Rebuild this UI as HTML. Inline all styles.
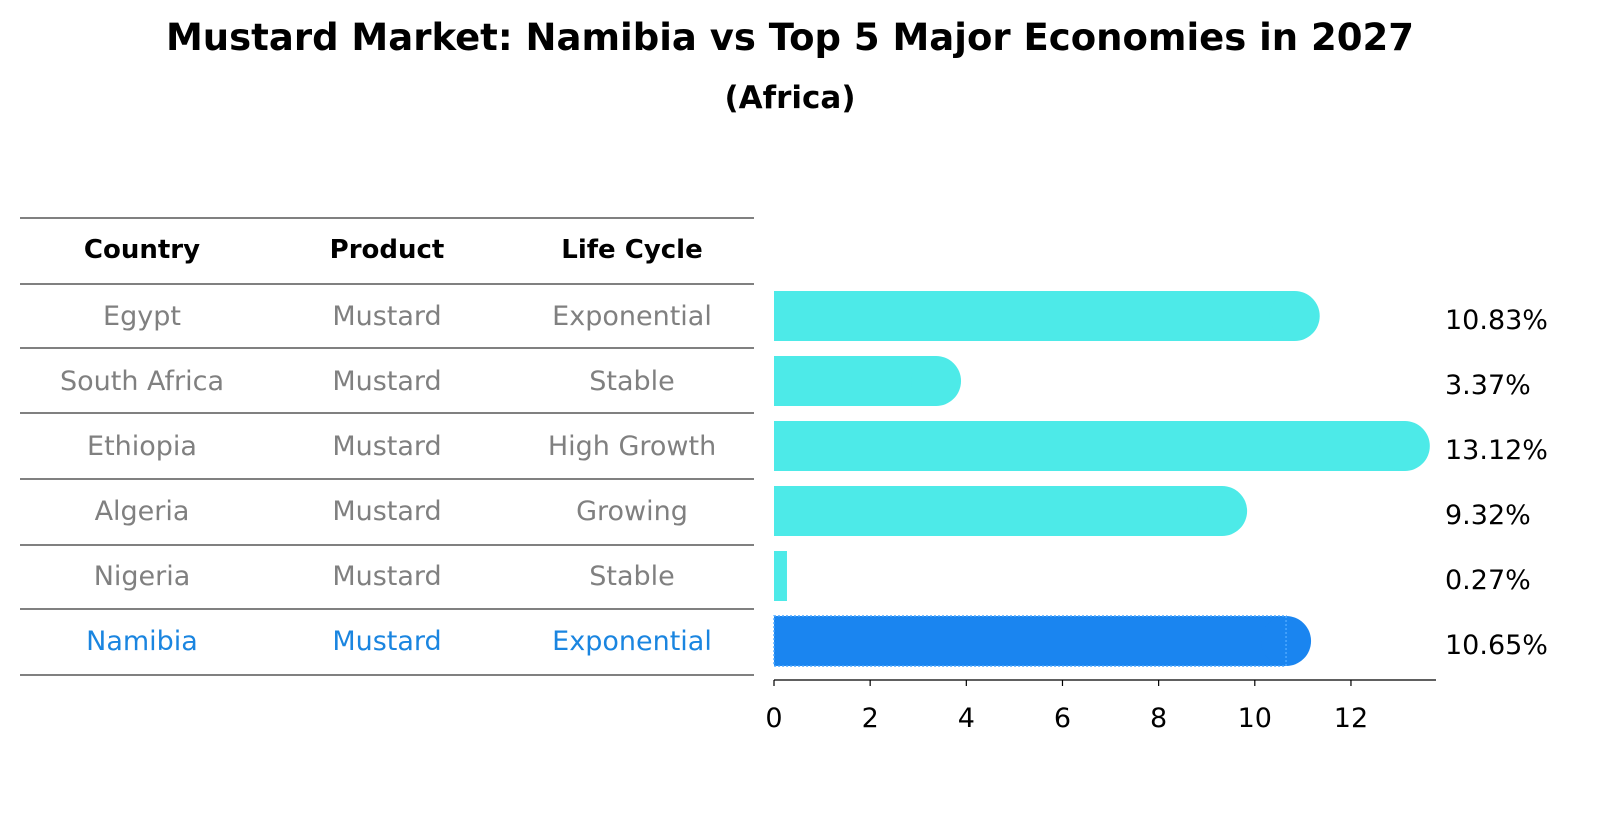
<!DOCTYPE html>
<html><head><meta charset="utf-8"><style>
body{margin:0;background:#fff;font-family:"Liberation Sans","DejaVu Sans",sans-serif}
</style></head><body>
<svg width="1604" height="823" xmlns="http://www.w3.org/2000/svg" font-family="DejaVu Sans, Liberation Sans, sans-serif">
<text x="790" y="50" text-anchor="middle" font-size="37" font-weight="bold">Mustard Market: Namibia vs Top 5 Major Economies in 2027</text>
<text x="790" y="108" text-anchor="middle" font-size="31" font-weight="bold">(Africa)</text>
<g id="table"></g>
<g id="bars"></g>
</svg>
<script>
const countries=["Egypt","South Africa","Ethiopia","Algeria","Nigeria","Namibia"];
const products=["Mustard","Mustard","Mustard","Mustard","Mustard","Mustard"];
const lifeCycles=["Exponential","Stable","High Growth","Growing","Stable","Exponential"];
const values=[10.83,3.37,13.12,9.32,0.27,10.65];
const ticks=[0,2,4,6,8,10,12];
const NS="http://www.w3.org/2000/svg";
const tbl=document.getElementById('table'), bars=document.getElementById('bars');
function mk(tag,attrs,parent,text){const e=document.createElementNS(NS,tag);for(const k in attrs)e.setAttribute(k,attrs[k]);if(text!==undefined)e.textContent=text;parent.appendChild(e);return e;}
const x=v=>774+v*48.08;
const rowY=i=>316+i*65;
const lineYs=[218,284,348,413,479,545,609,675];
lineYs.forEach((ly,i)=>{const l=mk('line',{x1:20,x2:754,y1:ly,y2:ly,stroke:'#000','stroke-width':1},tbl);

});
const colX=[142,387,632];
["Country","Product","Life Cycle"].forEach((h,j)=>{const t=mk('text',{x:colX[j],y:258,'text-anchor':'middle','font-size':26,'font-weight':'bold'},tbl,h);

});
countries.forEach((c,i)=>{
 const col=i===countries.length-1?'#1a85e0':'#808080';
 [c,products[i],lifeCycles[i]].forEach((s,j)=>{const t=mk('text',{x:colX[j],y:rowY(i)+9,'text-anchor':'middle','font-size':27,fill:col},tbl,s);
 
 });
 const hl=i===countries.length-1;
 const fill=hl?'#1a85f0':'#4deae8';
 const y0=rowY(i)-25, w=x(values[i])-774;
 const g=mk('g',{},bars);
 
 
 mk('rect',{x:774,y:y0,width:w,height:50,fill:fill},g);
 if(values[i]>0.5) mk('circle',{cx:x(values[i]),cy:rowY(i),r:25,fill:fill},g);
 if(hl) mk('rect',{x:774,y:y0,width:w,height:50,fill:'none',stroke:'#4da8ff','stroke-width':1.5,'stroke-dasharray':'2 2'},g);
 const lbl=mk('text',{x:1445,y:rowY(i)+13,'font-size':27},bars,values[i].toFixed(2)+'%');
 
 
});
const ax=mk('line',{x1:774,x2:1436,y1:680,y2:680,stroke:'#000','stroke-width':1.3},bars);


ticks.forEach(t=>{mk('line',{x1:x(t),x2:x(t),y1:680,y2:686,stroke:'#000','stroke-width':1.2},bars);
 const tl=mk('text',{x:x(t),y:727,'text-anchor':'middle','font-size':27},bars,String(t));
 
 });
</script>
</body></html>
